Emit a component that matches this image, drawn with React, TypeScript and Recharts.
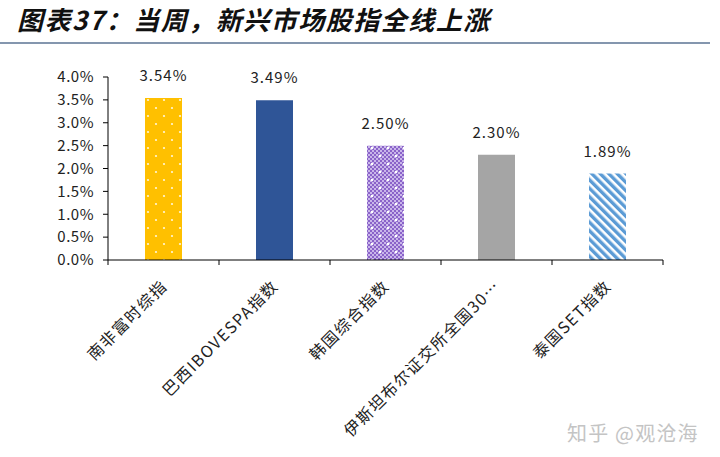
import { BarChart, Bar, XAxis, YAxis, Cell, LabelList } from "recharts";

const categories = [
  "南非富时综指",
  "巴西IBOVESPA指数",
  "韩国综合指数",
  "伊斯坦布尔证交所全国30…",
  "泰国SET指数",
];
const weeklyChange = [3.54, 3.49, 2.5, 2.3, 1.89];
const yTicks = [0, 0.5, 1.0, 1.5, 2.0, 2.5, 3.0, 3.5, 4.0];
const barFills = ["url(#dotYellow)", "#2F5597", "url(#dotPurple)", "#A5A5A5", "url(#stripeBlue)"];

const data = categories.map((name, i) => ({ name, value: weeklyChange[i] }));

const BAND = 111;
const font = "'Noto Sans CJK SC', 'Noto Sans', sans-serif";

function CategoryTick(props: any) {
  const { x, y, payload, index } = props;
  const cx = payload.coordinate ?? x;
  const tx = cx + 5;
  const ty = y + 27;
  return (
    <g>
      <line x1={cx - BAND / 2} x2={cx - BAND / 2} y1={y} y2={y + 5} stroke="#000" />
      {index === categories.length - 1 && (
        <line x1={cx + BAND / 2} x2={cx + BAND / 2} y1={y} y2={y + 5} stroke="#000" />
      )}
      <text
        x={tx}
        y={ty}
        transform={`rotate(-45, ${tx}, ${ty})`}
        textAnchor="end"
        fontSize={16}
        letterSpacing={1.5}
        fill="#222"
        fontFamily={font}
      >
        {payload.value}
      </text>
    </g>
  );
}

export default function App() {
  return (
    <div style={{ position: "absolute", left: 0, top: 0, width: 720, height: 457, background: "#fff", overflow: "hidden" }}>
      <div
        style={{
          position: "absolute",
          left: 17,
          top: 2,
          fontFamily: font,
          fontSize: 26,
          fontWeight: 700,
          fontStyle: "italic",
          letterSpacing: 1.5,
          lineHeight: "34px",
          color: "#111",
          whiteSpace: "nowrap",
          paddingRight: 10,
        }}
      >
        图表37：当周，新兴市场股指全线上涨
      </div>
      <div style={{ position: "absolute", left: 0, top: 42, width: 710, height: 2, background: "#8496AE" }} />
      <div style={{ position: "absolute", left: 0, top: 0 }}>
        <BarChart width={720} height={457} data={data} margin={{ top: 77, right: 57, bottom: 0, left: 0 }}>
          <defs>
            <pattern id="dotYellow" width="16" height="16" patternUnits="userSpaceOnUse">
              <rect width="16" height="16" fill="#FFC000" />
              <circle cx="4" cy="4" r="1.1" fill="#fff" opacity="0.85" />
              <circle cx="12" cy="12" r="1.1" fill="#fff" opacity="0.85" />
            </pattern>
            <pattern id="dotPurple" width="16" height="16" patternUnits="userSpaceOnUse">
              <rect width="16" height="16" fill="#C9B6EA" />
              <path
                d="M0 0h2v2H0zM4 0h2v2H4zM8 0h2v2H8zM12 0h2v2h-2zM2 2h2v2H2zM6 2h2v2H6zM10 2h2v2h-2zM14 2h2v2h-2zM0 4h2v2H0zM4 4h2v2H4zM8 4h2v2H8zM12 4h2v2h-2zM2 6h2v2H2zM6 6h2v2H6zM10 6h2v2h-2zM14 6h2v2h-2zM0 8h2v2H0zM4 8h2v2H4zM8 8h2v2H8zM12 8h2v2h-2zM2 10h2v2H2zM6 10h2v2H6zM10 10h2v2h-2zM14 10h2v2h-2zM0 12h2v2H0zM4 12h2v2H4zM8 12h2v2H8zM12 12h2v2h-2zM2 14h2v2H2zM6 14h2v2H6zM10 14h2v2h-2zM14 14h2v2h-2z"
                fill="#8A63C9"
              />
              <circle cx="4" cy="4" r="1.3" fill="#fff" />
              <circle cx="12" cy="12" r="1.3" fill="#fff" />
            </pattern>
            <pattern id="stripeBlue" width="6" height="6" patternUnits="userSpaceOnUse" patternTransform="rotate(-45)">
              <rect width="6" height="6" fill="#fff" />
              <rect width="3.4" height="6" fill="#5B9BD5" />
            </pattern>
          </defs>
          <YAxis
            width={108}
            domain={[0, 4]}
            ticks={yTicks}
            tickFormatter={(v: number) => v.toFixed(1) + "%"}
            axisLine={{ stroke: "#000" }}
            tickLine={{ stroke: "#000" }}
            tickSize={5}
            tickMargin={9}
            tick={{ fontSize: 15, fill: "#222", fontFamily: font, letterSpacing: 0.5 }}
            interval={0}
          />
          <XAxis
            dataKey="name"
            height={197}
            axisLine={{ stroke: "#000" }}
            tickLine={false}
            tickSize={0}
            tickMargin={0}
            interval={0}
            tick={<CategoryTick />}
          />
          <Bar dataKey="value" barSize={37} isAnimationActive={false}>
            {data.map((d, i) => (
              <Cell key={d.name} fill={barFills[i]} />
            ))}
            <LabelList
              dataKey="value"
              position="top"
              offset={17}
              formatter={(v: any) => Number(v).toFixed(2) + "%"}
              style={{ fontSize: 15, fill: "#222", fontFamily: font, letterSpacing: 1 }}
            />
          </Bar>
        </BarChart>
      </div>
      <div
        style={{
          position: "absolute",
          left: 567,
          top: 418,
          fontFamily: font,
          fontSize: 20,
          letterSpacing: 1.2,
          color: "#C4C4C4",
          whiteSpace: "nowrap",
        }}
      >
        知乎 @观沧海
      </div>
    </div>
  );
}
